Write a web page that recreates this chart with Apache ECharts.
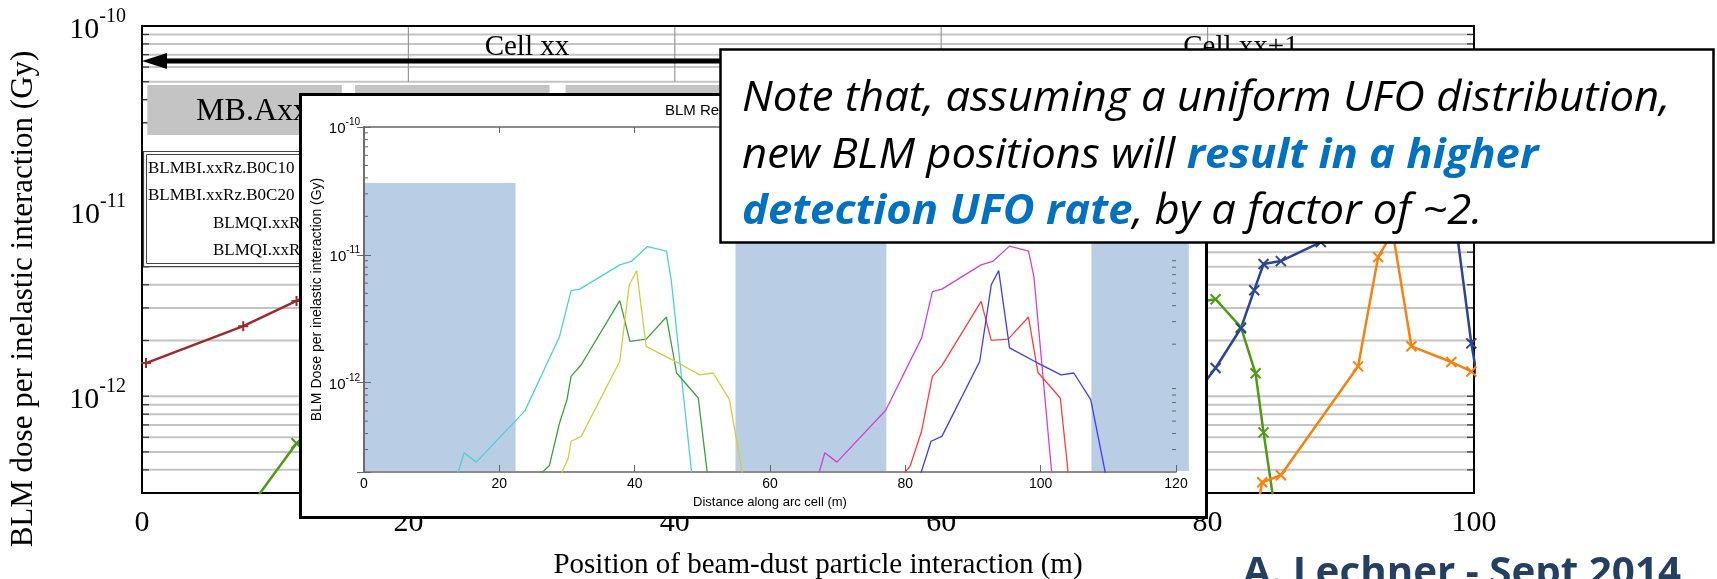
<!DOCTYPE html>
<html>
<head>
<meta charset="utf-8">
<script src="https://cdn.jsdelivr.net/npm/echarts@6/dist/echarts.min.js"></script>
<style>
  html, body { margin: 0; padding: 0; background: #fff; }
  #main { width: 1717px; height: 579px; }
</style>
</head>
<body>
<div id="main"></div>
<script>
// ---------- main plot: BLM dose vs UFO position (m) ----------
var posBrown = [0.3, 7.6, 11.6, 15];
var doseBrown = [1.51e-12, 2.39e-12, 3.27e-12, 4.2e-12];
var posGreen = [7.5, 11.6, 80.6, 82.5, 83.6, 84.2, 85.1];
var doseGreen = [2.2e-13, 5.57e-13, 3.34e-12, 2.36e-12, 1.33e-12, 6.38e-13, 2.3e-13];
var posNavy = [78.5, 80.6, 82.5, 83.5, 84.2, 85.5, 88.5, 92, 95, 98, 99.8, 101];
var doseNavy = [9e-13, 1.42e-12, 2.33e-12, 3.74e-12, 5.18e-12, 5.37e-12, 6.8e-12, 1.0e-11, 1.4e-11, 1.9e-11, 1.93e-12, 6e-13];
var posOrange = [83.7, 84.1, 85.5, 91.3, 92.8, 93.9, 95.3, 98.3, 99.8];
var doseOrange = [2.4e-13, 3.43e-13, 3.74e-13, 1.45e-12, 5.64e-12, 7.7e-12, 1.86e-12, 1.53e-12, 1.36e-12];

var legendNames = ['BLMBI.xxRz.B0C10', 'BLMBI.xxRz.B0C20', 'BLMQI.xxRz.B0T10', 'BLMQI.xxRz.B0T20'];

// header of main plot (cells and magnets, in m)
var cellLines = [20, 40, 60, 80];
var cellNames = ['Cell xx', 'Cell xx+1'];
var cellCenters = [28.9, 82.5];
var magnetNames = ['MB.Axx', 'MB.Bxx', 'MB.Cxx'];
var magnetStart = [0.4, 16.0, 31.8];
var magnetEnd = [15.0, 30.6, 46.4];
var arrowSpan = [0, 56];

// ---------- inset: BLM response along arc cell ----------
var cyanX = [13.2, 14.8, 16.6, 23.8, 28.9, 30.6, 31.9, 37.8, 39.5, 41.9, 44.7, 45.4, 48.5];
var cyanY = [1.5e-13, 2.83e-13, 2.39e-13, 6.04e-13, 2.3e-12, 5.24e-12, 5.39e-12, 8.35e-12, 8.87e-12, 1.16e-11, 1.07e-11, 6.38e-12, 1.8e-13];
var greenX = [25.5, 27.4, 28.9, 30.0, 30.6, 32.1, 37.8, 39.3, 41.7, 44.7, 46.2, 49.4, 51.0];
var greenY = [1.8e-13, 2.25e-13, 4.84e-13, 7.36e-13, 1.12e-12, 1.38e-12, 4.38e-12, 2.1e-12, 2.19e-12, 3.26e-12, 1.19e-12, 7.58e-13, 1.5e-13];
var yellowX = [28.2, 30.2, 30.6, 32.1, 37.8, 39.2, 40.3, 41.7, 46.4, 49.6, 51.6, 54.0, 56.3];
var yellowY = [1.5e-13, 2.58e-13, 3.48e-13, 3.8e-13, 1.47e-12, 5.83e-12, 7.5e-12, 1.92e-12, 1.43e-12, 1.15e-12, 1.19e-12, 7.36e-13, 1.5e-13];
var magentaX = [66.6, 68.1, 69.9, 77.1, 82.4, 84.0, 85.4, 91.2, 92.9, 95.4, 98.2, 99.0, 101.7];
var magentaY = [1.5e-13, 2.83e-13, 2.39e-13, 6.08e-13, 2.23e-12, 5.16e-12, 5.39e-12, 8.35e-12, 8.87e-12, 1.17e-11, 1.07e-11, 6.76e-12, 1.8e-13];
var redX = [79.3, 80.7, 82.4, 84.0, 85.4, 91.2, 92.7, 95.2, 98.2, 99.6, 102.9, 104.3];
var redY = [1.8e-13, 2.22e-13, 4.17e-13, 1.12e-12, 1.36e-12, 4.32e-12, 2.14e-12, 2.19e-12, 3.26e-12, 1.2e-12, 7.58e-13, 1.5e-13];
var blueX = [81.6, 83.8, 85.4, 91.0, 92.7, 93.8, 95.4, 99.5, 103.0, 104.9, 107.4, 110.0];
var blueY = [1.5e-13, 3.48e-13, 3.8e-13, 1.47e-12, 5.83e-12, 7.53e-12, 1.87e-12, 1.43e-12, 1.15e-12, 1.19e-12, 7.36e-13, 1.5e-13];

// shaded (magnet) zones in the inset, in m
var zoneStart = [0, 54.9, 107.5];
var zoneEnd = [22.4, 77.2, 121.9];
var zoneTop = 3.65e-11;

var mainYMin = 3e-13, mainYMax = 1e-10;
var insetYMin = 2e-13, insetYMax = 1e-10;

// log grid values 1..9 x 10^n
function logSteps(lo, hi, first) {
  var out = [];
  for (var e = -14; e <= -10; e++) {
    for (var m = first; m <= 9; m++) {
      var v = m * Math.pow(10, e);
      if (v > lo * 1.01 && v < hi * 0.99) out.push(v);
    }
  }
  return out;
}
var mainGridVals = logSteps(mainYMin, mainYMax, 1);
var insetMinorVals = logSteps(insetYMin, insetYMax, 2);

function pairs(xs, ys) {
  return xs.map(function (x, i) { return [x, ys[i]]; });
}

function powLabel(v) {
  var l = Math.log10(v), e = Math.round(l);
  if (Math.abs(l - e) > 1e-6) return '';
  return '{b|10}{s|' + e + '}';
}

function textWidth(str, font) {
  var ctx = document.createElement('canvas').getContext('2d');
  ctx.font = font;
  return ctx.measureText(str).width;
}

var serif = 'Liberation Serif';
var sans = 'Liberation Sans';
var crossSym = 'path://M0,0L10,10M10,0L0,10';
var plusSym = 'path://M5,0L5,10M0,5L10,5';

function mainLine(name, xs, ys, color, sym) {
  return {
    name: name, type: 'line', xAxisIndex: 0, yAxisIndex: 0,
    data: pairs(xs, ys), symbol: sym, symbolSize: 10, showAllSymbol: true,
    clip: true, z: 4,
    lineStyle: { color: color, width: 2.5 },
    itemStyle: { color: color, borderColor: color, borderWidth: 2 }
  };
}

function insetLine(name, xs, ys, color) {
  return {
    name: name, type: 'line', xAxisIndex: 1, yAxisIndex: 1,
    data: pairs(xs, ys), symbol: 'none', clip: true, z: 13,
    lineStyle: { color: color, width: 1.3 }
  };
}

var chart = echarts.init(document.getElementById('main'));

var noteFont = 'italic 42px "Open Sans"';
var noteScale = 928 / textWidth('Note that, assuming a uniform UFO distribution,', noteFont);
var authorFont = 'bold 40px "Open Sans"';
var authorScale = 438 / textWidth('A. Lechner - Sept 2014', authorFont);
var noteRich = {
  n: { fontFamily: 'Open Sans', fontSize: 42, fontStyle: 'italic', fill: '#000', color: '#000' },
  h: { fontFamily: 'Open Sans', fontSize: 42, fontStyle: 'italic', fontWeight: 'bold', fill: '#0070c0', color: '#0070c0' }
};

var graphics = [
  // main y axis title
  { type: 'text', x: 24, y: 299, rotation: Math.PI / 2, z: 1,
    style: { text: 'BLM dose per inelastic interaction (Gy)', font: '31px "' + serif + '"', fill: '#000',
             align: 'center', verticalAlign: 'middle', textAlign: 'center', textVerticalAlign: 'middle' } },
  // main legend box (mostly hidden by inset)
  { type: 'rect', z: 2, shape: { x: 143.5, y: 151.5, width: 230, height: 115 },
    style: { fill: '#fff', stroke: '#444', lineWidth: 1.2 } },
  { type: 'rect', z: 2, shape: { x: 146.5, y: 154.5, width: 224, height: 109 },
    style: { fill: 'none', stroke: '#444', lineWidth: 1 } },
  // inset frame
  { type: 'rect', z: 10, shape: { x: 300.5, y: 94.5, width: 906, height: 423 },
    style: { fill: '#fff', stroke: '#000', lineWidth: 3 } },
  { type: 'text', x: 665, y: 111, z: 12,
    style: { text: 'BLM Response vs. UFO location', font: '15px "' + sans + '"', fill: '#000',
             verticalAlign: 'middle', textVerticalAlign: 'middle' } },
  // note box
  { type: 'rect', z: 20, shape: { x: 720.5, y: 49.5, width: 993, height: 193 },
    style: { fill: '#fff', stroke: '#000', lineWidth: 2.5 } },
  { type: 'text', x: 742, y: 99, scaleX: noteScale, z: 21,
    style: { text: '{n|Note that, assuming a uniform UFO distribution,}', rich: noteRich,
             verticalAlign: 'middle', textVerticalAlign: 'middle' } },
  { type: 'text', x: 742, y: 156, scaleX: noteScale, z: 21,
    style: { text: '{n|new BLM positions will }{h|result in a higher}', rich: noteRich,
             verticalAlign: 'middle', textVerticalAlign: 'middle' } },
  { type: 'text', x: 742, y: 212, scaleX: noteScale, z: 21,
    style: { text: '{h|detection UFO rate}{n|, by a factor of ~2.}', rich: noteRich,
             verticalAlign: 'middle', textVerticalAlign: 'middle' } },
  { type: 'text', x: 1243, y: 574, scaleX: authorScale, z: 21,
    style: { text: 'A. Lechner - Sept 2014', font: authorFont, fill: '#243f60',
             verticalAlign: 'middle', textVerticalAlign: 'middle' } }
];
// legend entries
var legendX = [148, 148, 213, 213];
var legendY = [169, 196, 224, 251];
legendNames.forEach(function (t, i) {
  graphics.push({ type: 'text', x: legendX[i], y: legendY[i], z: 2,
    style: { text: t, font: '17px "' + serif + '"', fill: '#000',
             verticalAlign: 'middle', textVerticalAlign: 'middle' } });
});

var option = {
  animation: false,
  backgroundColor: '#fff',
  graphic: { elements: graphics },
  grid: [
    { left: 142, top: 26, width: 1332, height: 467, show: true, borderColor: '#000', borderWidth: 2,
      backgroundColor: 'transparent', z: 3, containLabel: false, outerBoundsMode: 'none' },
    { left: 364, top: 127, width: 812, height: 345, z: 12, containLabel: false, outerBoundsMode: 'none' }
  ],
  xAxis: [
    { gridIndex: 0, type: 'value', min: 0, max: 100, interval: 20, z: 3,
      axisLine: { lineStyle: { color: '#000', width: 2 } },
      axisTick: { show: false }, splitLine: { show: false },
      axisLabel: { margin: 15, fontFamily: serif, fontSize: 30, color: '#000' },
      name: 'Position of beam-dust particle interaction (m)', nameLocation: 'middle', nameGap: 58,
      nameTextStyle: { fontFamily: serif, fontSize: 29, color: '#000', padding: [0, 0, 0, 20] } },
    { gridIndex: 1, type: 'value', min: 0, max: 120, interval: 20, z: 12,
      axisLine: { lineStyle: { color: '#666', width: 1.5 } },
      axisTick: { inside: true, length: 7, lineStyle: { color: '#666' } },
      splitLine: { show: false },
      axisLabel: { margin: 5, fontFamily: sans, fontSize: 14, color: '#000' },
      name: 'Distance along arc cell (m)', nameLocation: 'middle', nameGap: 21,
      nameTextStyle: { fontFamily: sans, fontSize: 13, color: '#000' } },
    { gridIndex: 1, type: 'value', position: 'top', min: 0, max: 120, interval: 20, z: 12,
      axisLine: { lineStyle: { color: '#666', width: 1.5 } },
      axisTick: { inside: true, length: 6, lineStyle: { color: '#666' } },
      axisLabel: { show: false }, splitLine: { show: false } }
  ],
  yAxis: [
    { gridIndex: 0, type: 'log', logBase: 10, min: mainYMin, max: mainYMax, z: 3,
      axisLine: { show: false }, axisTick: { show: false }, splitLine: { show: false },
      axisLabel: { margin: 16, formatter: powLabel, color: '#000',
        rich: {
          b: { fontFamily: serif, fontSize: 30, lineHeight: 38, verticalAlign: 'bottom', color: '#000' },
          s: { fontFamily: serif, fontSize: 20, lineHeight: 20, verticalAlign: 'top', color: '#000' }
        } } },
    { gridIndex: 1, type: 'log', logBase: 10, min: insetYMin, max: insetYMax, z: 12,
      axisLine: { lineStyle: { color: '#666', width: 1.5 } },
      axisTick: { inside: true, length: 7, lineStyle: { color: '#666' } },
      splitLine: { show: false },
      axisLabel: { margin: 4, formatter: powLabel, color: '#000',
        rich: {
          b: { fontFamily: sans, fontSize: 15, lineHeight: 19, verticalAlign: 'bottom', color: '#000' },
          s: { fontFamily: sans, fontSize: 10, lineHeight: 10, verticalAlign: 'top', color: '#000' }
        } },
      name: 'BLM Dose per inelastic interaction (Gy)', nameLocation: 'middle', nameGap: 40, nameRotate: 90,
      nameTextStyle: { fontFamily: sans, fontSize: 14, color: '#000' } },
    { gridIndex: 1, type: 'log', logBase: 10, position: 'right', min: insetYMin, max: insetYMax, z: 12,
      axisLine: { lineStyle: { color: '#666', width: 1.5 } },
      axisTick: { inside: true, length: 7, lineStyle: { color: '#666' } },
      axisLabel: { show: false }, splitLine: { show: false } }
  ],
  series: [
    // main horizontal grid (1..9 x 10^n) with short ticks on both frames
    { type: 'custom', xAxisIndex: 0, yAxisIndex: 0, z: 1, silent: true,
      data: mainGridVals.map(function (v) { return [0, v]; }),
      renderItem: function (params, api) {
        var a = api.coord([0, api.value(1)]), b = api.coord([100, api.value(1)]);
        return { type: 'group', children: [
          { type: 'line', shape: { x1: a[0], y1: a[1], x2: b[0], y2: b[1] }, style: { stroke: '#c4c4c4', lineWidth: 2 } },
          { type: 'line', shape: { x1: a[0], y1: a[1], x2: a[0] + 7, y2: a[1] }, style: { stroke: '#333', lineWidth: 1.2 } },
          { type: 'line', shape: { x1: b[0] - 7, y1: b[1], x2: b[0], y2: b[1] }, style: { stroke: '#333', lineWidth: 1.2 } }
        ] };
      } },
    // cell dividers in the header
    { type: 'custom', xAxisIndex: 0, yAxisIndex: 0, z: 2, silent: true,
      data: cellLines.map(function (x) { return [x, mainYMax]; }),
      renderItem: function (params, api) {
        var a = api.coord([api.value(0), mainYMax]), b = api.coord([api.value(0), 5e-11]);
        return { type: 'line', shape: { x1: a[0], y1: a[1], x2: b[0], y2: b[1] }, style: { stroke: '#999', lineWidth: 1.2 } };
      } },
    // cell names
    { type: 'custom', xAxisIndex: 0, yAxisIndex: 0, z: 2, silent: true,
      data: cellCenters.map(function (x) { return [x, 7.7e-11]; }),
      renderItem: function (params, api) {
        var p = api.coord([api.value(0), api.value(1)]);
        return { type: 'text', x: p[0], y: p[1],
          style: { text: cellNames[params.dataIndex], font: '29px "' + serif + '"', fill: '#000',
                   align: 'center', verticalAlign: 'middle', textAlign: 'center', textVerticalAlign: 'middle' } };
      } },
    // cell arrow
    { type: 'custom', xAxisIndex: 0, yAxisIndex: 0, z: 2, silent: true,
      data: [[arrowSpan[0], 6.47e-11, arrowSpan[1]]],
      renderItem: function (params, api) {
        var a = api.coord([api.value(0), api.value(1)]), b = api.coord([api.value(2), api.value(1)]);
        return { type: 'group', children: [
          { type: 'line', shape: { x1: a[0] + 20, y1: a[1], x2: b[0], y2: b[1] }, style: { stroke: '#000', lineWidth: 5 } },
          { type: 'polygon', shape: { points: [[a[0], a[1]], [a[0] + 25, a[1] - 8], [a[0] + 25, a[1] + 8]] }, style: { fill: '#000' } }
        ] };
      } },
    // magnets
    { type: 'custom', xAxisIndex: 0, yAxisIndex: 0, z: 2, silent: true,
      data: magnetStart.map(function (s, i) { return [s, 4.8e-11, magnetEnd[i], 2.58e-11]; }),
      renderItem: function (params, api) {
        var a = api.coord([api.value(0), api.value(1)]), b = api.coord([api.value(2), api.value(3)]);
        return { type: 'group', children: [
          { type: 'rect', shape: { x: a[0], y: a[1], width: b[0] - a[0], height: b[1] - a[1] }, style: { fill: '#c4c4c4' } },
          { type: 'text', x: (a[0] + b[0]) / 2 + 8, y: (a[1] + b[1]) / 2 + 2,
            style: { text: magnetNames[params.dataIndex], font: '32px "' + serif + '"', fill: '#000',
                     align: 'center', verticalAlign: 'middle', textAlign: 'center', textVerticalAlign: 'middle' } }
        ] };
      } },
    mainLine('BLMBI.xxRz.B0C10', posBrown, doseBrown, '#9e2a2b', plusSym),
    mainLine('BLMBI.xxRz.B0C20', posGreen, doseGreen, '#4f9a12', crossSym),
    mainLine('BLMQI.xxRz.B0T10', posNavy, doseNavy, '#2b4592', crossSym),
    mainLine('BLMQI.xxRz.B0T20', posOrange, doseOrange, '#f7820e', crossSym),

    // inset shaded zones
    { type: 'custom', xAxisIndex: 1, yAxisIndex: 1, z: 11, silent: true, clip: false,
      data: zoneStart.map(function (s, i) { return [s, zoneTop, zoneEnd[i]]; }),
      renderItem: function (params, api) {
        var a = api.coord([api.value(0), api.value(1)]), b = api.coord([api.value(2), insetYMin]);
        return { type: 'rect', shape: { x: a[0], y: a[1], width: b[0] - a[0], height: b[1] - a[1] - 1 },
                 style: { fill: '#b9cde5' } };
      } },
    // inset minor ticks (2..9 x 10^n) on both sides
    { type: 'custom', xAxisIndex: 1, yAxisIndex: 1, z: 12, silent: true,
      data: insetMinorVals.map(function (v) { return [0, v]; }),
      renderItem: function (params, api) {
        var a = api.coord([0, api.value(1)]), b = api.coord([120, api.value(1)]);
        return { type: 'group', children: [
          { type: 'line', shape: { x1: a[0], y1: a[1], x2: a[0] + 4, y2: a[1] }, style: { stroke: '#666', lineWidth: 1 } },
          { type: 'line', shape: { x1: b[0] - 4, y1: b[1], x2: b[0], y2: b[1] }, style: { stroke: '#666', lineWidth: 1 } }
        ] };
      } },
    insetLine('C1', cyanX, cyanY, '#4dd0d4'),
    insetLine('C2', greenX, greenY, '#3e9e3e'),
    insetLine('C3', yellowX, yellowY, '#cdd03c'),
    insetLine('C4', magentaX, magentaY, '#cc44d4'),
    insetLine('C5', redX, redY, '#ff3c3c'),
    insetLine('C6', blueX, blueY, '#3c3cff')
  ]
};

chart.setOption(option);
</script>
</body>
</html>
